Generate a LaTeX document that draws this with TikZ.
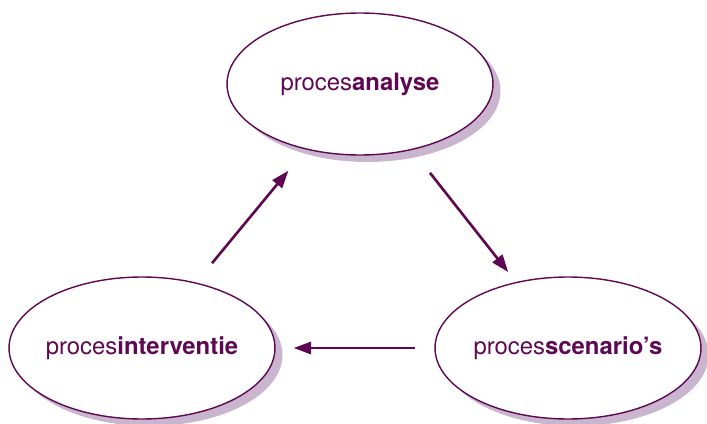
\documentclass[tikz,border=0pt]{standalone}
\usepackage{fontspec}
\setmainfont{TeX Gyre Heros}
\usetikzlibrary{arrows.meta,shapes,shadows}
\definecolor{procpurple}{RGB}{94,8,84}
\definecolor{procshadow}{RGB}{201,181,206}

\begin{document}
\begin{tikzpicture}[x = .02cm, y = -.02cm,
  proc/.style = {ellipse, draw = procpurple, line width = .8pt, fill = white,
    inner xsep = -5pt, inner ysep = 0pt,
    minimum width = 5.32cm, minimum height = 2.84cm, text = procpurple,
    font = \fontsize{13.6}{16}\selectfont,
    drop shadow = {shadow xshift = .15cm, shadow yshift = -.14cm,
      fill = procshadow, opacity = 1}},
  flow/.style = {-{Triangle[length = 10pt, width = 7pt]}, line width = 1.5pt,
    draw = procpurple}]
\useasboundingbox (0, 0) rectangle (707, 423);

\node[proc] (analyse) at (360, 84) {proces\textbf{analyse}};
\node[proc] (scen) at (568, 348) {proces\textbf{scenario's}};
\node[proc] (interv) at (142, 348) {proces\textbf{interventie}};

\draw[flow, shorten < = .5cm, shorten > = .55cm] (interv) -- (analyse);
\draw[flow, shorten < = .58cm, shorten > = .25cm] (analyse) -- (scen);
\draw[flow, shorten < = .38cm, shorten > = .36cm] (scen) -- (interv);

\end{tikzpicture}
\end{document}
